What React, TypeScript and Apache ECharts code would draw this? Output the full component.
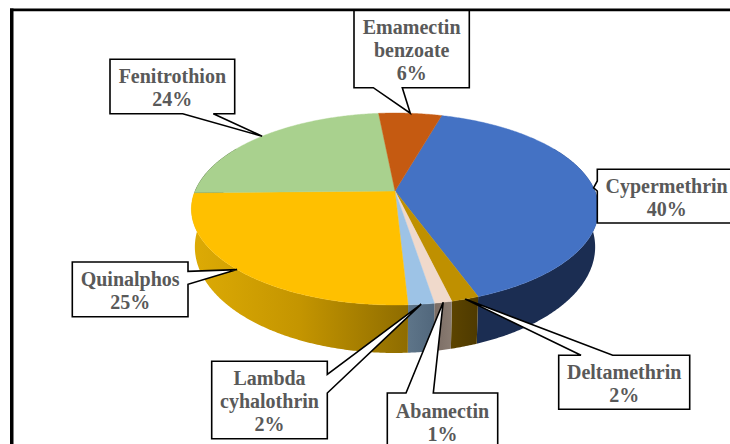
import React, { useEffect, useRef } from "react";
import * as echarts from "echarts";

// Clockwise from the Cypermethrin slice's leading edge
const names = ["Cypermethrin", "Deltamethrin", "Abamectin", "Lambda\ncyhalothrin", "Quinalphos", "Fenitrothion", "Emamectin\nbenzoate"];
const shares = [40, 1.83, 1.17, 1.72, 25.55, 23.75, 6];
const percentLabels = ["40%", "2%", "1%", "2%", "25%", "24%", "6%"];

const topColors = ["#4472C4", "#BF9000", "#F0D9CB", "#9DC3E6", "#FFC000", "#A9D18E", "#C55A11"];
const wallStops: string[][] = [
  ["#1B2D52", "#1B2D52"],
  ["#5C4400", "#4E3A00"],
  ["#7A6C64", "#8A7C72"],
  ["#5E7589", "#51677C"],
  ["#DDAB05", "#C49500", "#8E6C00"],
  ["#000000", "#000000"],
  ["#000000", "#000000"],
];

// Callout layout: box [x0, y0, x1, y1]; tail root [a, b] on a side
const calloutBoxes = [
  { box: [597.3, 169.3, 736, 223], side: "left", root: [181, 191] },
  { box: [558.7, 355.3, 689.7, 409.3], side: "top", root: [581, 612.7] },
  { box: [387.3, 393, 497.7, 450], side: "top", root: [406, 433.3] },
  { box: [211.7, 361.3, 327.3, 438.7], side: "right", root: [374.3, 393] },
  { box: [72.3, 262, 188, 316.7], side: "right", root: [271.3, 284.3] },
  { box: [110, 59.3, 234.7, 113.7], side: "bottom", root: [182.7, 213.3] },
  { box: [354, 10, 469.3, 87.7], side: "bottom", root: [373.3, 402.3] },
];

const START_DEG = 16;
const CX = 395;
const APEX_Y = 191;
const A_X = 200;
const A_Y = 56.8;
const C = -0.1875;

function rim(deg: number, depth = false): [number, number] {
  const t = (deg * Math.PI) / 180;
  const u = Math.sin(t);
  const v = -Math.cos(t);
  const d = 1 + C * v;
  const x = CX + (A_X * u) / d;
  const y = (APEX_Y + A_Y * v) / d;
  if (!depth) return [x, y];
  return [CX + (x - CX) * 0.983, 247 + (y - 209) * 1.104];
}

const total = shares.reduce((a, b) => a + b, 0);
function sliceRange(i: number, value: number): [number, number] {
  let before = 0;
  for (let k = 0; k < i; k++) before += shares[k];
  const a0 = START_DEG + (before / total) * 360;
  return [a0, a0 + (value / total) * 360];
}
function arcPoints(a0: number, a1: number, depth = false) {
  const pts: [number, number][] = [];
  const n = Math.max(2, Math.ceil(a1 - a0) * 2);
  for (let k = 0; k <= n; k++) pts.push(rim(a0 + ((a1 - a0) * k) / n, depth));
  return pts;
}

const renderWall = (p: any, api: any) => {
  const i = p.dataIndex;
  const [a0, a1] = sliceRange(i, api.value(0));
  const lo = Math.max(a0, 60);
  const hi = Math.min(a1, 300);
  if (hi <= lo) return { type: "group", children: [] };
  const top = arcPoints(lo, hi);
  const bottom = arcPoints(lo, hi, true).reverse();
  const points = top.concat(bottom);
  const xs = points.map((q) => q[0]);
  const stops = wallStops[i];
  const fill = new echarts.graphic.LinearGradient(
    Math.min(...xs), 0, Math.max(...xs), 0,
    stops.map((color, k) => ({ offset: k / (stops.length - 1), color })),
    true
  );
  return { type: "polygon", shape: { points }, style: { fill, stroke: stops[stops.length - 1], lineWidth: 0 } };
};

const renderTop = (p: any, api: any) => {
  const i = p.dataIndex;
  const [a0, a1] = sliceRange(i, api.value(0));
  const points = [[CX, APEX_Y] as [number, number]].concat(arcPoints(a0, a1));
  return {
    type: "polygon",
    shape: { points },
    style: { fill: topColors[i], stroke: topColors[i], lineWidth: 0.4 },
  };
};

const renderCallout = (p: any, api: any) => {
  const i = p.dataIndex;
  const [a0, a1] = sliceRange(i, api.value(0));
  const tip = rim((a0 + a1) / 2);
  const { box, side, root } = calloutBoxes[i];
  const [x0, y0, x1, y1] = box;
  const [a, b] = root;
  const tl = [x0, y0], tr = [x1, y0], br = [x1, y1], bl = [x0, y1];
  let points: number[][];
  if (side === "top") points = [tl, [a, y0], tip, [b, y0], tr, br, bl];
  else if (side === "right") points = [tl, tr, [x1, a], tip, [x1, b], br, bl];
  else if (side === "bottom") points = [tl, tr, br, [b, y1], tip, [a, y1], bl];
  else points = [tl, tr, br, bl, [x0, b], tip, [x0, a]];
  return {
    type: "group",
    children: [
      {
        type: "polygon",
        shape: { points },
        style: { fill: "#FFFFFF", stroke: "#000000", lineWidth: 1.6, lineJoin: "miter" },
      },
      {
        type: "text",
        style: {
          text: names[i] + "\n" + percentLabels[i],
          x: (x0 + x1) / 2,
          y: (y0 + y1) / 2 + 1,
          align: "center",
          verticalAlign: "middle",
          fill: "#595959",
          font: 'bold 20px "Liberation Serif"',
          lineHeight: 23,
        },
      },
    ],
  };
};

export default function App() {
  const ref = useRef<HTMLDivElement>(null);
  useEffect(() => {
    document.body.style.margin = "0";
    const chart = echarts.init(ref.current!, null, { renderer: "svg" });
    const data = shares.map((v, i) => ({ name: names[i], value: [v] }));
    chart.setOption({
      animation: false,
      backgroundColor: "#FFFFFF",
      graphic: [
        { type: "rect", shape: { x: 10, y: 8.5, width: 3.5, height: 436 }, style: { fill: "#000" }, z: 10 },
        { type: "rect", shape: { x: 10, y: 8.5, width: 720, height: 2.7 }, style: { fill: "#000" }, z: 10 },
      ],
      series: [
        { type: "custom", coordinateSystem: "none", data, renderItem: renderWall, z: 1, silent: true },
        { type: "custom", coordinateSystem: "none", data, renderItem: renderTop, z: 2, silent: true },
        { type: "custom", coordinateSystem: "none", data, renderItem: renderCallout, z: 3, silent: true },
      ],
    });
    return () => chart.dispose();
  }, []);
  return <div ref={ref} style={{ position: "fixed", left: 0, top: 0, width: 730, height: 444, overflow: "hidden" }} />;
}
